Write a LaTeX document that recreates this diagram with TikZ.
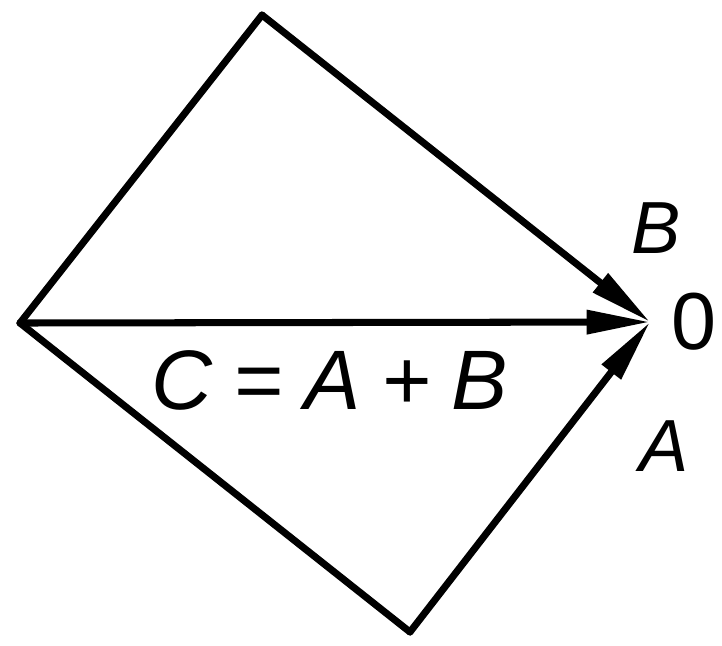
\documentclass[tikz,border=0pt]{standalone}
\usepackage{fontspec}
\setmainfont{Liberation Sans}
\usetikzlibrary{arrows.meta}

\begin{document}
\begin{tikzpicture}[line cap=round,line join=round,x=0.01cm,y=-0.01cm,
    >={Triangle[length=18pt,width=6.5pt]},
    vec/.style={line width=2pt},
    lbl/.style={font=\fontsize{21}{23}\selectfont\itshape,inner sep=0pt}]
			\useasboundingbox (0,0) rectangle (722,645);
			\coordinate (left) at (20,323);
			\coordinate (top) at (262,15);
			\coordinate (bot) at (410,632);
			\coordinate (O) at (650,322);
			\draw[vec] (left)--(top);
			\draw[vec] (left)--(bot);
			\draw[vec,->] (top)--(O);
			\draw[vec,->] (bot)--(O);
			\draw[vec,->] (left)--(O);
			\node[lbl] (labB) at (656,228) {B};
			\node[lbl,font=\fontsize{23}{25}\selectfont] (labO) at (694,322) {0};
			\node[lbl] (labA) at (664,446) {A};
			\node[lbl,font=\fontsize{24}{26}\selectfont\itshape] (labC) at (330,380) {C\hspace{6pt}=\hspace{6pt}A\hspace{6pt}+\hspace{6pt}B};
\end{tikzpicture}
\end{document}
